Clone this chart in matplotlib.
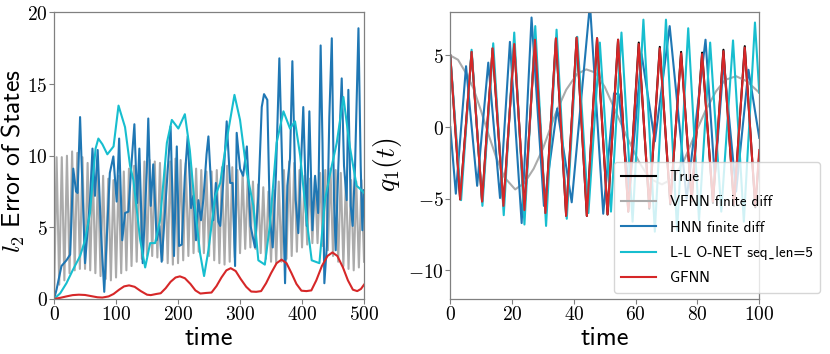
import numpy as np
import matplotlib
matplotlib.use('Agg')
import matplotlib.pyplot as plt
from matplotlib.ticker import FuncFormatter

plt.rcParams['mathtext.fontset'] = 'cm'

# ---- left panel: l2 error of states over time ----
# VFNN finite diff (sampled on a uniform time grid 0..500)
err_vfnn = [0.0,
            9.9, 1.0, 9.9, 1.3, 10.0, 1.8, 10.3, 2.0, 10.2, 2.1,
            9.9, 2.1, 9.5, 2.0, 9.1, 1.8, 8.8, 1.6, 8.6, 1.4,
            8.4, 1.3, 8.3, 1.5, 8.6, 1.8, 8.9, 2.0, 9.1, 2.3,
            9.3, 2.6, 9.5, 2.8, 9.6, 3.0, 9.7, 3.0, 9.6, 2.9,
            9.5, 2.7, 9.4, 2.5, 9.6, 2.4, 9.8, 2.5, 9.7, 2.7,
            9.5, 3.0, 9.3, 3.2, 9.1, 3.3, 9.0, 3.2, 8.9, 3.0,
            8.9, 2.7, 9.0, 2.5, 9.2, 2.4, 9.3, 2.6, 9.2, 2.9,
            9.0, 3.2, 8.8, 3.5, 8.5, 3.6, 8.2, 3.5, 8.0, 3.2,
            7.8, 2.8, 7.5, 2.6, 7.6, 2.5, 8.2, 2.6, 9.0, 2.8,
            9.6, 3.0, 9.5, 3.3, 9.0, 3.6, 8.6, 3.8, 8.4, 3.9,
            8.5, 3.9, 8.8, 3.7, 9.0, 3.4, 9.1, 3.0, 9.0, 2.6,
            8.8, 2.3, 8.5, 2.1, 8.3, 2.0, 8.2, 2.2, 8.3, 2.6]
err_vfnn_t = np.linspace(0, 500, len(err_vfnn))

err_hnn_t = [0, 4, 12, 20, 26, 31, 35.5, 38, 42, 50, 58, 62, 66, 70.4, 75.8, 81,
             90, 95.7, 101, 105, 110, 114.5, 120, 125, 129.6, 134, 137.6, 143,
             149.5, 152, 156, 160, 165.6, 170, 173.6, 181.7, 188, 193.5, 198,
             201.6, 206, 211, 215.6, 221, 224.7, 229, 232.8, 237, 241, 246, 249,
             254, 257, 261, 265, 268, 273, 278.5, 284, 288, 292, 294.6, 300, 305,
             311, 317, 324, 329.6, 335, 338.7, 344, 348, 352.7, 358, 363.4, 368.8,
             372.6, 376.3, 380.6, 384.4, 389.8, 394, 398.4, 402, 407.5, 411.8,
             416.7, 421, 426, 430, 433, 436, 440, 444, 448, 451.6, 454.3, 458.6,
             464, 467.7, 472, 474.7, 478.5, 481.7, 485.5, 491, 494.6, 497.3, 500]
err_hnn = [0, 0.65, 2.3, 2.7, 3.1, 9.1, 7.5, 7.4, 12.7, 2.5, 6.9, 10.5, 7.2, 10.4, 4.6, 0.5,
           8.8, 9.95, 6.8, 11.2, 4.1, 6.0, 6.1, 9.5, 12.2, 6.7, 10.5, 2.5,
           8.8, 12.6, 6.5, 9.4, 4.1, 5.1, 2.6, 7.9, 12.05, 3.0, 10.65,
           3.7, 3.8, 8.6, 11.35, 6.35, 7.2, 4.1, 6.9, 5.5, 7.0, 10.1, 11.35,
           7.4, 5.5, 8.1, 5.4, 5.1, 8.2, 12.4, 8.1, 8.1, 2.3, 11.6, 9.1, 8.6,
           10.65, 5.1, 3.6, 7.2, 13.4, 14.3, 13.9, 5.8, 3.6, 8.8, 16.8, 7.9,
           1.1, 7.9, 9.8, 16.6, 6.9, 4.6, 9.5, 13.4, 5.1, 13.1,
           4.8, 8.6, 6.0, 17.7, 10.9, 1.1, 3.7, 12.7, 18.2, 6.9, 3.4, 9.3,
           15.4, 9.3, 6.9, 14.6, 6.5, 5.1, 9.3, 18.9, 9.3, 4.8, 7.6]

err_lonet_t = [0, 10, 20, 30, 42, 50, 58, 63, 67, 71.5, 78, 86, 96, 104, 114.5, 122.6,
               128, 139, 147, 155, 163, 171, 182, 190, 200.5, 211, 219, 227,
               235.5, 242, 249, 260, 268, 278.5, 291, 300, 311, 321.5, 329.5,
               340, 348, 359, 370, 380.6, 388.7, 397, 407.5, 415.6, 428, 437,
               445, 456, 466.7, 477, 488, 493.5, 500]
err_lonet = [0, 0.4, 1.1, 2.0, 3.0, 4.1, 6.0, 8.6, 10.5, 11.2, 10.8, 10.1, 10.65, 13.5, 12.0, 9.3,
             8.3, 4.1, 2.2, 3.9, 3.9, 5.5, 10.9, 12.5, 11.9, 12.9, 10.4, 6.5,
             3.2, 1.6, 3.4, 7.2, 8.1, 11.1, 14.25, 12.5, 8.8, 6.5, 2.7,
             2.4, 5.1, 10.9, 13.1, 11.9, 12.4, 10.0, 5.5, 2.7, 2.5, 6.9,
             8.7, 10.9, 14.1, 10.65, 7.9, 7.7, 7.4]

err_gfnn_t = [0, 10, 20, 30, 40, 50, 60, 70, 78, 88, 96, 105, 113, 121, 130, 140, 150,
              156, 165, 172, 180, 188, 196, 203, 211, 220, 228, 236, 245, 254,
              262, 270, 278, 285, 293, 301, 310, 318, 326, 334, 342, 350, 359,
              367, 375, 383, 391, 399, 407, 415, 423, 432, 441, 449, 457, 466,
              474, 482, 489, 495, 500]
err_gfnn = [0, 0.08, 0.18, 0.27, 0.3, 0.28, 0.2, 0.12, 0.1, 0.18, 0.35, 0.65, 0.88, 0.95, 0.85, 0.55, 0.3,
            0.27, 0.35, 0.4, 0.75, 1.2, 1.5, 1.58, 1.45, 1.05, 0.6, 0.38, 0.42, 0.45,
            0.9, 1.5, 2.0, 2.15, 1.95, 1.4, 0.85, 0.52, 0.5, 0.55, 1.1, 1.8, 2.5,
            2.75, 2.5, 1.8, 1.05, 0.58, 0.55, 0.6, 1.3, 2.3, 3.0, 3.25, 3.0, 2.2,
            1.3, 0.65, 0.55, 0.7, 1.0]

# ---- right panel: q1(t) trajectories ----
q_gfnn_t = [0, 3.2, 6.9, 10.3, 13.7, 17.2, 20.7, 24.0, 27.4, 30.8, 34.2, 37.5, 40.9, 44.2,
            47.5, 50.9, 54.3, 57.6, 61.0, 64.4, 67.8, 71.2, 74.7, 78.1, 81.5, 85.0,
            88.4, 91.8, 95.3, 98.7, 100]
q_gfnn = [5.0, -5.05, 5.25, -5.2, 5.5, -5.5, 5.8, -5.8, 6.1, -6.0, 6.2, -6.2, 6.25, -6.2,
          6.2, -6.1, 6.1, -5.9, 5.8, -5.6, 5.5, -5.3, 5.15, -5.1, 5.1, -5.2,
          5.3, -5.4, 5.55, -5.5, -1.6]
q_true = [5.0, -5.05, 5.25, -5.2, 5.5, -5.5, 5.8, -5.8, 6.1, -6.0, 6.2, -6.2, 6.25, -6.2,
          6.2, -6.1, 6.1, -5.9, 5.9, -5.7, 5.6, -5.4, 5.25, -5.2, 5.2, -5.3,
          5.4, -5.5, 5.65, -5.6, -1.9]

q_vfnn_t = [0, 2.5, 5, 7.5, 10, 12.5, 15, 17.5, 21, 24, 27, 30, 34, 37.5, 41, 44, 47, 50,
            53.5, 57, 61, 64.5, 68.5, 72, 75.5, 79, 82.5, 86, 89, 92.5, 96, 100]
q_vfnn = [5.0, 4.7, 3.8, 2.7, 1.1, -0.6, -2.2, -3.5, -4.35, -3.9, -2.9, -1.5, 0.9, 2.6, 3.7,
          4.03, 3.8, 2.8, 1.1, -0.6, -2.4, -3.6, -4.0, -3.6, -2.4, -0.6, 1.1, 2.5, 3.3,
          3.55, 3.2, 2.4]

q_hnn_t = [0, 1.8, 5.1, 8.7, 12.3, 16.1, 19.3, 23.1, 26.3, 30.3, 34.6, 39.3, 45.2, 49.5,
           53.0, 54.5, 58.0, 61.9, 66.2, 71.0, 76.5, 82.6, 85.6, 88.5, 92.5, 96.5, 100]
q_hnn = [0, -4.65, 4.25, -4.1, 4.5, -4.95, 5.95, -6.7, 7.65, -5.5, 1.3, -5.25, 8.6, -6.05,
         2.35, 2.3, -4.5, 5.1, -1.0, 7.05, -5.0, 6.1, -3.5, 4.55, -4.5, 4.0, -0.75]

q_lonet_t = [0, 3.5, 6.9, 10.4, 13.9, 17.3, 20.7, 24.0, 27.5, 31.0, 34.4, 37.7, 41.1, 44.7,
             48.4, 52.0, 55.4, 59.0, 62.5, 66.2, 69.8, 73.4, 77.0, 80.5, 84.1, 87.7,
             91.5, 95.0, 98.6, 100]
q_lonet = [5.0, -5.1, 5.4, -5.5, 5.85, -6.15, 6.6, -6.8, 7.05, -6.9, 6.8, -6.4, 6.3, -6.0,
           5.9, -5.9, 6.6, -6.6, 7.5, -7.3, 7.5, -7.2, 6.9, -6.5, 5.9, -5.9,
           6.05, -6.6, 7.3, 2.4]

labels = ['True', 'VFNN finite diff', 'HNN finite diff',
          'L-L O-NET seq\u02cdlen=5', 'GFNN']

c_gray = '#ababab'
c_blue = '#1f77b4'
c_cyan = '#17becf'
c_red = '#d62728'
lw = 1.5
sans = ['cmss10', 'DejaVu Sans']

fig = plt.figure(figsize=(8.3, 3.54), dpi=100)
ax1 = fig.add_axes([0.0651, 0.1554, 0.3735, 0.8093])
ax2 = fig.add_axes([0.5425, 0.1554, 0.3723, 0.8093])

ax1.plot(err_vfnn_t, err_vfnn, color=c_gray, lw=lw)
ax1.plot(err_hnn_t, err_hnn, color=c_blue, lw=lw)
ax1.plot(err_lonet_t, err_lonet, color=c_cyan, lw=lw)
ax1.plot(err_gfnn_t, err_gfnn, color=c_red, lw=lw)
ax1.set_xlim(0, 500)
ax1.set_ylim(0, 20)
ax1.set_xticks([0, 100, 200, 300, 400, 500])
ax1.set_yticks([0, 5, 10, 15, 20])
ax1.set_xlabel('time', fontfamily=sans, fontsize=19, labelpad=2)
ax1.set_ylabel(r'$l_2\ \mathsf{Error\ of\ States}$', fontsize=18.5)
ax1.yaxis.set_label_coords(-0.088, 0.48)

ax2.plot(q_gfnn_t, q_true, color='black', lw=lw, label=labels[0])
ax2.plot(q_vfnn_t, q_vfnn, color=c_gray, lw=lw, label=labels[1])
ax2.plot(q_hnn_t, q_hnn, color=c_blue, lw=lw, label=labels[2])
ax2.plot(q_lonet_t, q_lonet, color=c_cyan, lw=lw, label=labels[3])
ax2.plot(q_gfnn_t, q_gfnn, color=c_red, lw=lw, label=labels[4])
ax2.set_xlim(0, 100)
ax2.set_ylim(-12, 8)
ax2.set_xticks([0, 20, 40, 60, 80, 100])
ax2.set_yticks([-10, -5, 0, 5])
ax2.set_xlabel('time', fontfamily=sans, fontsize=19, labelpad=2)
ax2.set_ylabel(r'$q_1(t)$', fontsize=20)
ax2.yaxis.set_label_coords(-0.15, 0.47)

fmt = FuncFormatter(lambda v, p: r'$\mathrm{%g}$' % v)
for ax in (ax1, ax2):
    ax.xaxis.set_major_formatter(fmt)
    ax.yaxis.set_major_formatter(fmt)
    ax.tick_params(labelsize=14, color='#808080', length=3.5, width=0.8, pad=1)
    for s in ax.spines.values():
        s.set_color('#808080')
        s.set_linewidth(0.9)

leg = ax2.legend(loc='lower left', bbox_to_anchor=(0.7394, 0.1723),
                 bbox_transform=fig.transFigure, borderaxespad=0,
                 prop={'family': sans, 'size': 10.9}, handlelength=2.3,
                 handletextpad=0.9, labelspacing=0.75, borderpad=0.5)

fig.savefig('out.png', dpi=100)
